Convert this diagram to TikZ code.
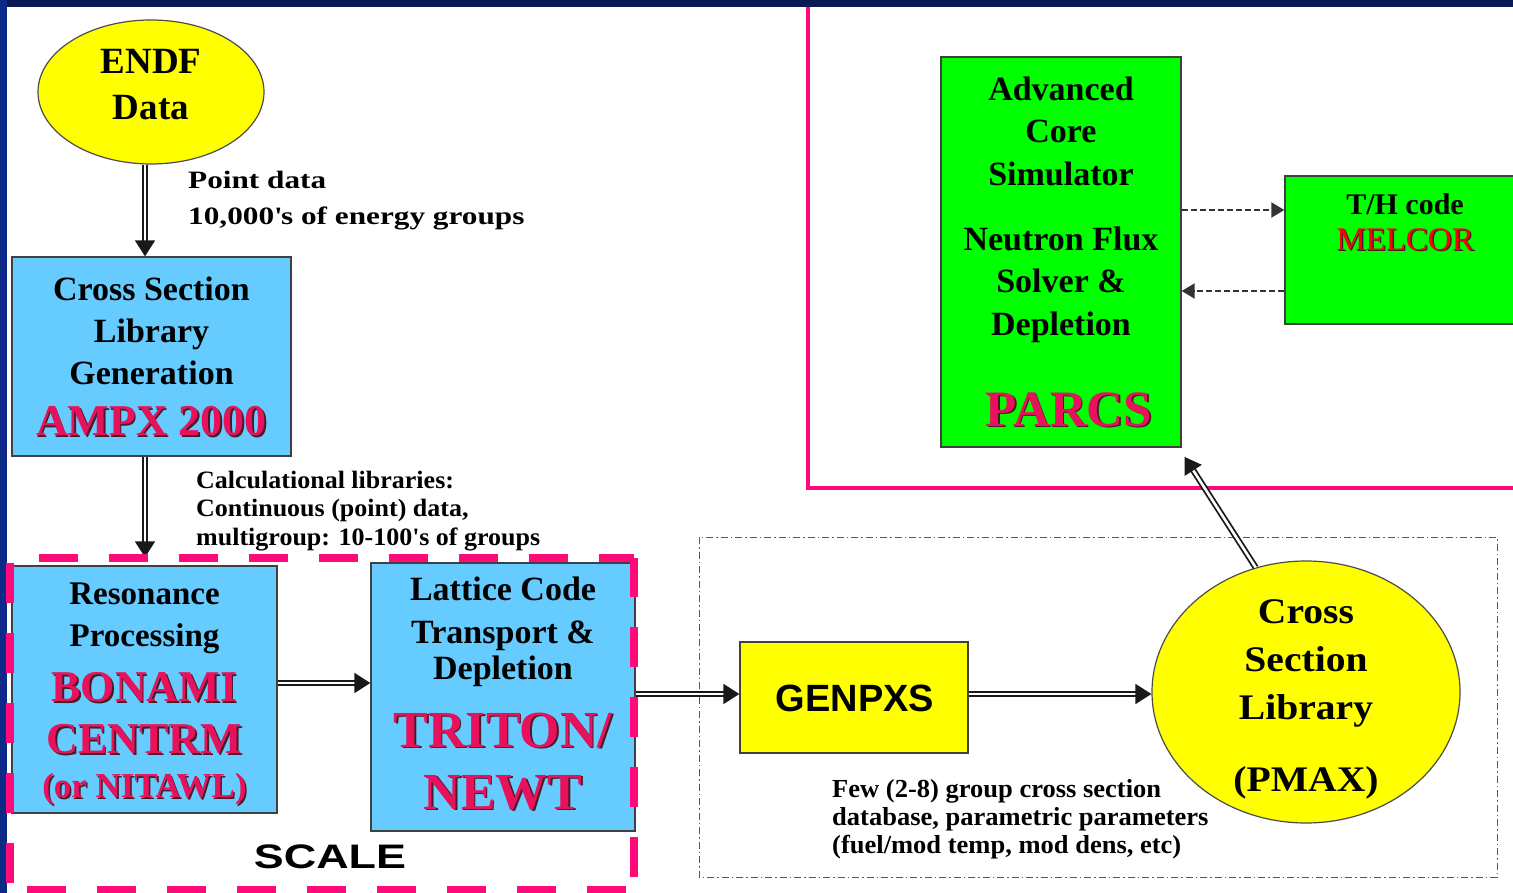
\documentclass[tikz,border=0pt]{standalone}
\usepackage{graphicx}
\usepackage{fontspec}
\setmainfont{Liberation Serif}
\setsansfont{Liberation Sans}
\newfontfamily\wideserif[FakeStretch=1.25]{Liberation Serif}
\newfontfamily\labelserif[FakeStretch=1.04]{Liberation Serif}
\newfontfamily\fewserif[FakeStretch=1.02]{Liberation Serif}
\newfontfamily\ovalserif[FakeStretch=1.1]{Liberation Serif}
\usetikzlibrary{arrows.meta,shapes.geometric}
\definecolor{navy}{HTML}{0A1A55}
\definecolor{navyside}{HTML}{0B2A88}
\definecolor{boxblue}{HTML}{66CCFF}
\definecolor{boxgreen}{HTML}{00FF00}
\definecolor{boxyellow}{HTML}{FFFF00}
\definecolor{pinktxt}{HTML}{E8125C}
\definecolor{pinkline}{HTML}{FF0A78}
\definecolor{shadowc}{HTML}{4A1A28}
\newcommand\shadowed[2]{\makebox[0pt][l]{\hspace{1.5pt}\raisebox{-1.5pt}{\textcolor{shadowc}{#2}}}\textcolor{#1}{#2}}
\newcommand\fs[2]{\fontsize{#1}{#2}\selectfont}
\newcommand\tightlines{\lineskiplimit=-1000pt\relax}
\begin{document}
\begin{tikzpicture}[x=1pt,y=-1pt,
  box/.style={draw=black!75,line width=1.3pt,inner sep=0pt},
  bluebox/.style={box,fill=boxblue},
  greenbox/.style={box,fill=boxgreen},
  yellowbox/.style={box,fill=boxyellow},
  oval/.style={ellipse,draw=black!70,line width=1.2pt,fill=boxyellow,inner sep=0pt},
  txt/.style={inner sep=0pt,align=center,text=black},
  lbl/.style={inner sep=0pt,align=left,anchor=west,text=black},
  dbl/.style={draw=black!90,line width=1.8pt,double=white,double distance=2.6pt,-{Triangle[length=16pt,width=20pt]}},
  dasharr/.style={draw=black!80,line width=2pt,dash pattern=on 6pt off 3pt,-{Triangle[length=13pt,width=15pt]}},
  scaledash/.style={draw=pinkline,line width=8pt},
  frame/.style={draw=pinkline,line width=4pt},
  dashdot/.style={draw=black!65,line width=1pt,dash pattern=on 7pt off 3pt on 1.5pt off 3pt}
]
% background
\fill[navy] (0,0) rectangle (1513,893);
\fill[navyside] (0,0) rectangle (7,893);
\fill[white] (7,7) rectangle (1513,893);
\useasboundingbox (0,0) rectangle (1513,893);

% frames
\draw[frame] (808,7) -- (808,488) -- (1516,488);
\draw[dashdot] (699,537) rectangle (1497,877);

% ENDF
\node[oval,minimum width=226pt,minimum height=144pt] (endf) at (151,92) {};
\node[txt,font=\bfseries\fs{37}{46}] (endft) at (151,84.5) {ENDF\\Data};
\node[lbl,font=\wideserif\bfseries\fs{25}{36}] (ptlbl) at (188,200.5) {Point data\\10,000\textquotesingle s of energy groups};

% Cross section library generation
\node[bluebox,minimum width=279pt,minimum height=199pt] (xs) at (151.5,356.5) {};
\node[txt,font=\bfseries\fs{34}{42}\tightlines] (xst) at (151.5,357.3) {Cross Section\\Library\\Generation\\[9.5pt]\shadowed{pinktxt}{\fs{44}{42}AMPX 2000}};
\node[lbl,font=\labelserif\bfseries\fs{25}{28.5}] (callbl) at (196,511) {Calculational libraries:\\Continuous (point) data,\\multigroup: 10-100\textquotesingle s of groups};

% Resonance processing
\node[bluebox,minimum width=265pt,minimum height=247pt] (res) at (144.5,689.5) {};
\node[txt,font=\bfseries\fs{33}{42}\tightlines] (rest) at (144.5,695) {Resonance\\Processing\\[13pt]\shadowed{pinktxt}{\fs{44}{42}BONAMI}\\[10pt]\shadowed{pinktxt}{\fs{44}{42}CENTRM}\\[2pt]\shadowed{pinktxt}{\fs{35}{42}(or NITAWL)}};

% Lattice code
\node[bluebox,minimum width=264pt,minimum height=268pt] (lat) at (503,697) {};
\node[txt,font=\bfseries\fs{34}{36}\tightlines] (latt) at (503,694) {Lattice Code\\[7pt]Transport \&\\Depletion\\[32pt]\shadowed{pinktxt}{\fs{52}{36}TRITON/}\\[26pt]\shadowed{pinktxt}{\fs{52}{36}NEWT}};

% GENPXS
\node[yellowbox,minimum width=228pt,minimum height=111pt] (gen) at (854,697.5) {};
\node[txt,font=\sffamily\bfseries\fs{38}{40}] (gent) at (855,698) {GENPXS};

% PMAX
\node[oval,minimum width=308pt,minimum height=262pt] (pmax) at (1306,692) {};
\node[txt,font=\ovalserif\bfseries\fs{36}{48}\tightlines] (pmaxt) at (1306,699) {Cross\\Section\\Library\\[24pt](PMAX)};
\node[lbl,font=\fewserif\bfseries\fs{26}{28}] (fewlbl) at (832,819.7) {Few (2-8) group cross section\\database, parametric parameters\\(fuel/mod temp, mod dens, etc)};

% PARCS
\node[greenbox,minimum width=240pt,minimum height=390pt] (parcs) at (1061,252) {};
\node[txt,font=\bfseries\fs{34}{42.5}\tightlines] (parcst) at (1061,252.5) {Advanced\\Core\\Simulator\\[22.5pt]Neutron Flux\\Solver \&\\Depletion\\[48.5pt]\hspace*{16pt}\shadowed{pinktxt}{\fs{51}{42}PARCS}};

% T/H code
\node[greenbox,minimum width=245pt,minimum height=148pt] (th) at (1407.5,250) {};
\node[txt,font=\bfseries\fs{30}{36}\tightlines] (tht) at (1405,222.8) {T/H code\\\shadowed{red}{\mdseries\fs{33}{36}MELCOR}};

% connectors
\draw[dbl] ([xshift=-6pt]endf.south) -- ([xshift=-6.5pt]xs.north);
\draw[dbl,shorten >=8pt] ([xshift=-6.5pt]xs.south) -- ([xshift=0.5pt]res.north);
\draw[dbl] ([yshift=6.5pt]res.east) -- ([yshift=14pt]lat.west);
\draw[dbl] ([yshift=3pt]lat.east) -- ([yshift=3.5pt]gen.west);
\coordinate (genout) at ([yshift=3.5pt]gen.east);
\draw[dbl] (genout) -- (genout -| pmax.west);
\draw[dbl,shorten >=11pt] (pmax.112) -- ([xshift=-3pt]parcs.south east);
\coordinate (pout) at ([yshift=42pt]parcs.east);
\coordinate (thout) at ([yshift=-41pt]th.west);
\draw[dasharr] (pout) -- (pout -| th.west);
\draw[dasharr] (thout) -- (thout -| parcs.east);

% SCALE group
\node[txt,font=\sffamily\bfseries\fs{34}{36}] (scalet) at (330,857) {\scalebox{1.32}[1]{SCALE}};
\draw[scaledash,dash pattern=on 39pt off 31pt,dash phase=41.4pt] (10,558) -- (634,558);
\draw[scaledash,dash pattern=on 40pt off 30pt,dash phase=1pt] (634,558) -- (634,890);
\draw[scaledash,dash pattern=on 40pt off 30pt,dash phase=65pt] (10,558) -- (10,890);
\draw[scaledash,dash pattern=on 39pt off 31pt,dash phase=53pt] (10,890) -- (634,890);
\end{tikzpicture}
\end{document}
